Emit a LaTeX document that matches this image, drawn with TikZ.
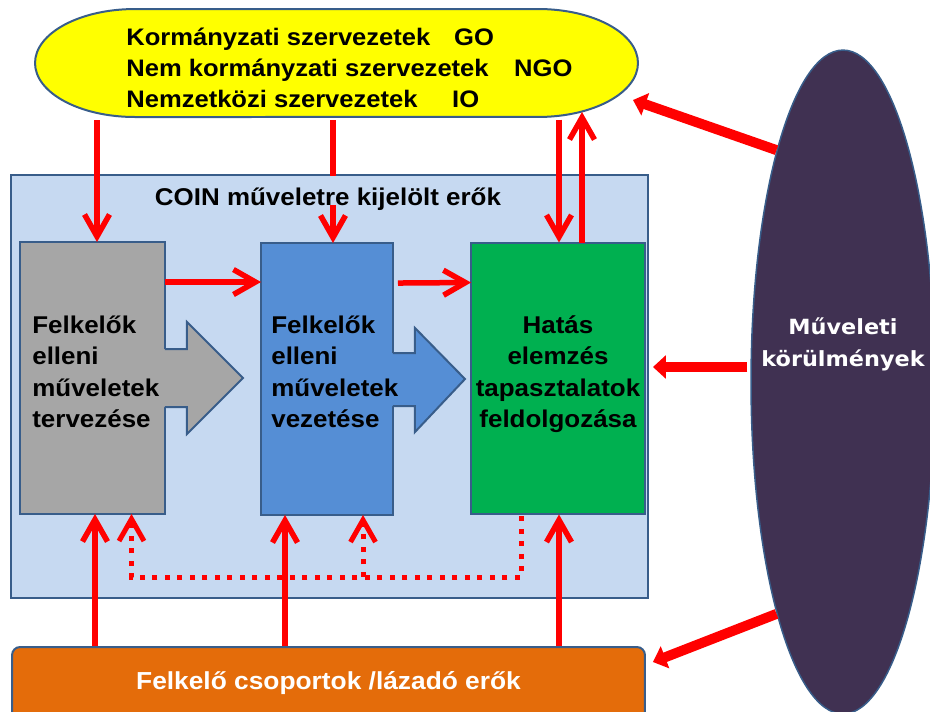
\documentclass[tikz,border=0pt]{standalone}
\usepackage{fontspec}
\setmainfont{Liberation Sans}[FakeStretch=1.07]
\newfontfamily\verdana{DejaVu Sans}[FakeStretch=1.07]
\usetikzlibrary{arrows.meta,calc,shapes.geometric}
\definecolor{sarga}{RGB}{255,255,0}
\definecolor{szurke}{RGB}{166,166,166}
\definecolor{kek}{RGB}{85,142,213}
\definecolor{zold}{RGB}{0,176,80}
\definecolor{halvany}{RGB}{198,217,241}
\definecolor{narancs}{RGB}{228,108,10}
\definecolor{lila}{RGB}{64,49,82}
\definecolor{keretkek}{RGB}{56,93,138}

\begin{document}
\begin{tikzpicture}[x=0.02cm,y=-0.02cm,
  keret/.style={draw=keretkek,line width=0.04cm},
  doboz/.style={keret,rectangle,inner sep=0pt,outer sep=0pt,minimum height=5.44cm},
  szoveg/.style={align=left,inner sep=0pt,font=\bfseries\fontsize{13.8}{17.9}\selectfont},
  nyil/.style={red,line width=0.11cm,-{Straight Barb[length=0.44cm,width=0.5cm]}},
  pont/.style={nyil,line width=0.1cm,dash pattern=on 0.1cm off 0.15cm},
  vastag/.style={red,line width=0.2cm,-{Triangle[length=0.26cm,width=0.46cm]}}]
\useasboundingbox (0,0) rectangle (930,711);

% szervezetek
\filldraw[keret,fill=sarga] (135,9) -- (538,9)
  arc[start angle=90,end angle=-90,x radius=2cm,y radius=1.08cm] -- (135,117)
  arc[start angle=270,end angle=90,x radius=2cm,y radius=1.08cm] -- cycle;
\node[szoveg,anchor=west,font=\bfseries\fontsize{13.6}{17.6}\selectfont] (org) at (126,68)
  {\makebox[6.56cm][l]{Kormányzati szervezetek}GO\\
   \makebox[7.76cm][l]{Nem kormányzati szervezetek}NGO\\
   \makebox[6.52cm][l]{Nemzetközi szervezetek}IO};
\coordinate (orgtip) at (633,100);
\coordinate (orgalj) at (582,112);

% COIN keret es dobozok
\node[keret,fill=halvany,inner sep=0pt,minimum width=12.76cm,minimum height=8.46cm] (coin) at (329.5,386.5) {};
\node[doboz,fill=szurke,minimum width=2.9cm] (terv) at (92.5,378) {};
\node[doboz,fill=kek,minimum width=2.64cm] (vez) at (327,379) {};
\node[doboz,fill=zold,minimum width=3.48cm] (elem) at (558,378.5) {};

\fill[szurke] ($(terv.east)+(-1,-29)$) -- ++(23,0) -- ++(0,-27) -- ($(terv.east)+(78,0)$)
  -- ($(terv.east)+(22,56)$) -- ++(0,-27) -- ++(-23,0) -- cycle;
\draw[keret] ($(terv.east)+(0,-29)$) -- ++(22,0) -- ++(0,-27) -- ($(terv.east)+(78,0)$)
  -- ($(terv.east)+(22,56)$) -- ++(0,-27) -- ++(-22,0);
\fill[kek] ($(vez.east)+(-1,-26)$) -- ++(23,0) -- ++(0,-25) -- ($(vez.east)+(72,0)$)
  -- ($(vez.east)+(22,53)$) -- ++(0,-26) -- ++(-23,0) -- cycle;
\draw[keret] ($(vez.east)+(0,-26)$) -- ++(22,0) -- ++(0,-25) -- ($(vez.east)+(72,0)$)
  -- ($(vez.east)+(22,53)$) -- ++(0,-26) -- ++(-22,0);

\node[szoveg,anchor=west] (tervszov) at (32,372) {Felkelők\\elleni\\műveletek\\tervezése};
\node[szoveg,anchor=west] (vezszov) at (271,372) {Felkelők\\elleni\\műveletek\\vezetése};
\node[szoveg,align=center] (elemszov) at (558,374) {Hatás\\elemzés\\tapasztalatok\\feldolgozása};

% lazado erok, korulmenyek
\node[keret,fill=narancs,rounded corners=0.16cm,inner sep=0pt,minimum width=12.66cm,minimum height=1.46cm,
  text=white,font=\bfseries\fontsize{14}{16}\selectfont] (lazado) at (328.5,683.5) {Felkelő csoportok /lázadó erők};
\node[ellipse,draw=keretkek,line width=0.03cm,fill=lila,inner sep=0pt,minimum width=3.68cm,minimum height=13.28cm] (korul) at (843,382) {};
\node[align=center,text=white,inner sep=0pt,font=\verdana\bfseries\fontsize{11.9}{18.2}\selectfont] (korulszov) at (843,344) {Műveleti\\körülmények};

% nyilak
\draw[nyil] ($(terv.north)+(4.5,-122)$) -- ($(terv.north)+(4.5,0)$);
\draw[nyil] ($(vez.north)+(6,-123)$) -- ($(vez.north)+(6,0)$);
\draw[nyil] ($(elem.north)+(1,-123)$) -- ($(elem.north)+(1,0)$);
\draw[nyil] ($(elem.north)+(24,0)$) -- (orgalj);
\node[fill=halvany,inner sep=0pt,text height=0.58cm,text depth=0pt,anchor=base,
  font=\bfseries\fontsize{13.8}{16}\selectfont] (cim) at (328,205) {COIN műveletre kijelölt erők};

\draw[nyil] ($(terv.north east)+(0,40)$) -- ($(vez.north west)+(0,39)$);
\draw[nyil] ($(vez.north east)+(5,40)$) -- ($(elem.north west)+(0,40)$);

\coordinate (p1) at ($(terv.south)+(2.5,0)$);
\coordinate (p2) at ($(vez.south)+(-42,0)$);
\coordinate (p3) at ($(elem.south)+(1,0)$);
\draw[nyil] (p1 |- lazado.north) -- (p1);
\draw[nyil] (p2 |- lazado.north) -- (p2);
\draw[nyil] (p3 |- lazado.north) -- (p3);

\coordinate (d0) at ($(elem.south)+(-37,2)$);
\draw[pont] (d0) -- ++(0,61) -| ($(terv.south)+(39,0)$);
\draw[pont] ($(vez.south)+(36,62)$) -- ($(vez.south)+(36,0)$);

\draw[vastag] (korul.106) -- (orgtip);
\draw[vastag] ($(korul.west)+(-3,-15)$) -- ($(korul.west -| elem.east)+(8,-15)$);
\draw[vastag] (korul.254) -- ($(lazado.north east)+(7,16)$);
\end{tikzpicture}
\end{document}
